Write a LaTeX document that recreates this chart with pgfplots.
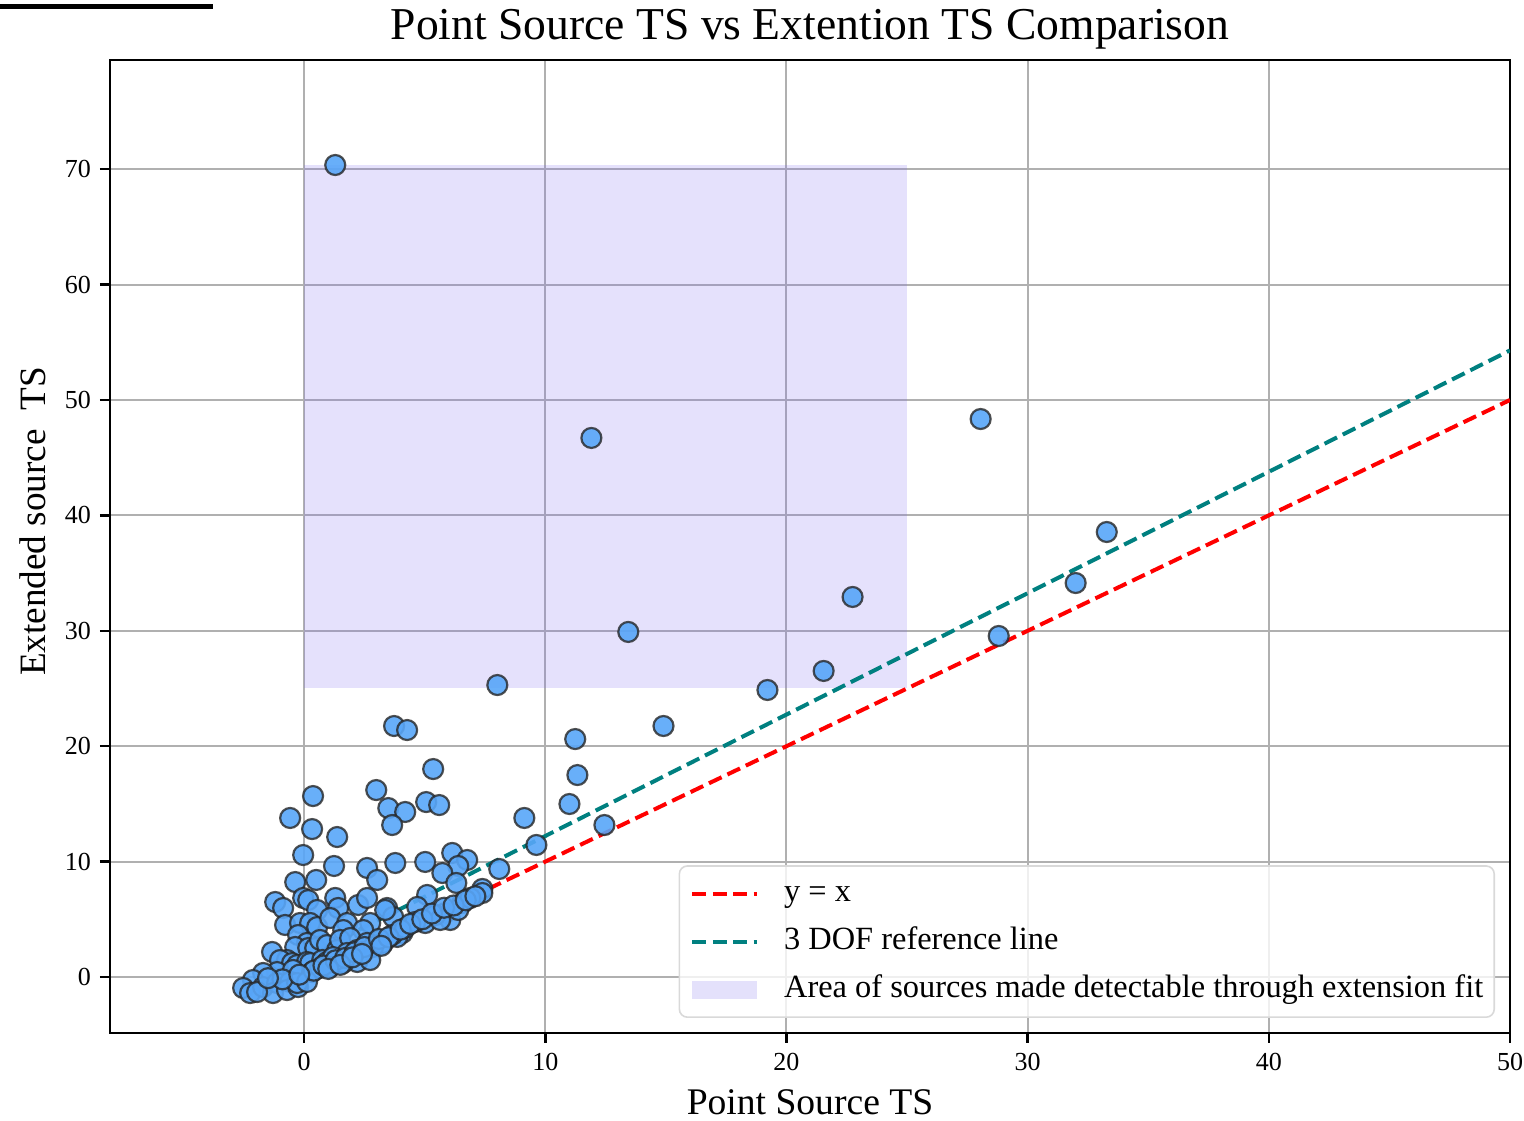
\documentclass[border=0pt]{standalone}
\usepackage{fontspec}
\setmainfont{Liberation Serif}
\usepackage{pgfplots}
\pgfplotsset{compat=1.18}
\definecolor{shadec}{RGB}{123,104,238}
\definecolor{ptfill}{RGB}{88,166,248}
\definecolor{gridc}{RGB}{176,176,176}
\definecolor{tealc}{RGB}{0,128,128}
\begin{document}
\begin{tikzpicture}
\begin{axis}[
  name=ax,
  scale only axis, width=350pt, height=243.25pt,
  xmin=-8.05, xmax=50, ymin=-4.85, ymax=79.46,
  xtick={0,10,20,30,40,50}, ytick={0,10,20,30,40,50,60,70},
  grid=major, major grid style={draw=gridc, line width=0.5pt},
  axis line style={line width=0.6pt},
  tick align=outside, major tick length=2.5pt,
  xtick pos=left, ytick pos=left,
  tick style={black, line width=0.6pt},
  /pgf/number format/assume math mode=true,
  tick label style={font=\fontsize{6.5}{7}\selectfont},
  xticklabel style={anchor=base, inner sep=0pt, yshift=-7pt},
  yticklabel style={anchor=east, inner sep=0pt, xshift=-2.1pt},
  title={Point Source TS vs Extention TS Comparison},
  title style={at={(0.5,1)}, anchor=base, yshift=-1pt, inner sep=0pt, font=\fontsize{11.4}{13}\selectfont},
  xlabel={Point Source TS},
  xlabel style={at={(0.5,0)}, anchor=base, yshift=-20.5pt, inner sep=0pt, font=\fontsize{9.4}{11}\selectfont},
  ylabel={Extended source\ \ TS},
  ylabel style={at={(-0.055,0.5257)}, anchor=center, inner sep=0pt, font=\fontsize{9.3}{11}\selectfont},
  legend style={draw=black!15, rounded corners=2pt, fill=white, fill opacity=0.8, text opacity=1,
    font=\fontsize{8.1}{9}\selectfont, at={(1,0)}, anchor=south east, xshift=-3.75pt, yshift=3.75pt,
    inner xsep=2.75pt, inner ysep=3pt, row sep=4.2pt, column sep=6.2pt,
    nodes={inner sep=0pt, text height=6pt, text depth=1.8pt},
    cells={anchor=west}},
  legend cell align=left,
  legend image code/.code={\draw[#1, sharp corners] (0pt,0pt) -- (16.25pt,0pt);},
]
% shaded region
\addplot[draw=none, fill=shadec, fill opacity=0.2, forget plot] coordinates {(0,25) (25,25) (25,70.36) (0,70.36)} --cycle;
% scatter
\addplot[only marks, mark=*, mark size=2.5pt, forget plot,
  mark options={fill=ptfill, draw=black!85, line width=0.55pt, fill opacity=0.9, draw opacity=0.8}]
coordinates {
(1.29,70.36) (11.91,46.71) (28.05,48.35) (33.28,38.56) (31.99,34.14) (22.74,32.93)
(13.44,29.90) (28.80,29.55) (21.54,26.52) (19.21,24.87) (8.01,25.30) (14.90,21.75)
(3.73,21.75) (4.27,21.40) (11.24,20.62) (5.35,18.02) (11.33,17.50) (2.99,16.20)
(0.37,15.68) (5.06,15.16) (5.60,14.90) (11.00,14.99) (3.49,14.64) (4.19,14.30)
(9.13,13.78) (-0.58,13.78) (12.45,13.17) (3.65,13.17) (0.33,12.82) (1.37,12.13)
(9.63,11.44) (-0.04,10.57) (6.14,10.75) (6.76,10.14) (5.02,9.97) (3.78,9.88)
(1.24,9.62) (2.61,9.45) (8.09,9.36) (6.39,9.62) (5.73,9.01) (3.03,8.41)
(0.50,8.41) (-0.37,8.23) (6.31,8.15) (7.39,7.63) (7.39,7.28) (5.10,7.11)
(6.56,6.41) (4.69,6.07) (3.44,5.98) (3.69,5.20) (5.02,4.68) (5.85,5.55)
(6.06,4.94) (4.07,3.81) (3.03,3.21) (2.82,2.77) (2.74,4.68) (-1.20,6.50)
(-0.87,5.98) (-0.04,6.85) (0.17,6.67) (0.54,5.81) (1.29,6.85) (1.41,5.98)
(2.24,6.24) (2.61,6.85) (3.36,5.81) (-0.79,4.51) (-0.17,4.68) (0.25,4.68)
(0.54,4.33) (1.08,5.11) (1.78,4.68) (1.62,4.07) (2.45,4.07) (-0.25,3.64)
(0.12,2.95) (-1.33,2.17) (-0.37,2.60) (0.17,2.51) (0.46,2.51) (0.66,3.21)
(0.95,2.77) (1.37,2.34) (1.49,3.21) (1.91,3.38) (1.78,2.08) (2.20,2.34)
(2.61,2.95) (3.28,2.95) (3.86,3.47) (2.41,2.17) (2.86,2.60) (-0.71,1.47)
(-1.00,1.47) (-0.50,1.21) (-0.29,1.04) (0.12,1.30) (0.25,1.21) (0.75,1.47)
(0.95,1.30) (1.20,1.73) (2.20,1.30) (2.74,1.47) (-1.12,0.43) (-1.70,0.35)
(-0.46,0.61) (0.33,0.43) (0.66,0.78) (1.08,0.87) (1.62,1.21) (-2.12,-0.26)
(-2.53,-0.95) (-2.24,-1.39) (-1.70,-0.87) (-1.12,-0.52) (-0.58,-0.43) (-1.29,-1.39)
(-0.71,-1.13) (-0.25,-0.87) (-1.95,-1.30) (-0.29,-0.52) (0.12,-0.43) (3.65,3.64)
(4.19,4.25) (4.61,4.77) (5.44,5.37) (5.64,4.94) (6.39,5.81) (6.89,6.85)
(0.40,0.55) (0.80,1.00) (1.30,1.45) (1.70,1.65) (2.10,2.15) (2.50,2.60)
(3.10,3.30) (3.50,3.45) (4.00,4.10) (4.40,4.60) (4.90,5.00) (5.30,5.50)
(5.80,6.00) (6.20,6.20) (6.70,6.65) (7.10,7.00) (1.00,0.70) (1.50,1.05)
(2.00,1.70) (2.40,2.00) (3.20,2.70) (-0.90,-0.20) (-1.50,-0.10) (-0.20,0.20)
};
% reference lines
\addplot[red, line width=1pt, dash pattern=on 3.5pt off 1.6pt]
  coordinates {(0,0) (50,50)};
\addlegendentry{y = x}
\addplot[tealc, line width=1pt, dash pattern=on 3.5pt off 1.6pt]
  coordinates {(0,1.7) (50,54.3)};
\addlegendentry{3 DOF reference line}
\addlegendimage{legend image code/.code={\path[fill=shadec, fill opacity=0.2, draw=none, sharp corners] (0pt,-2.25pt) rectangle (16.25pt,2.25pt);}}
\addlegendentry{Area of sources made detectable through extension fit}
\end{axis}
\fill[black] ([xshift=-27.5pt,yshift=12.75pt]ax.north west) rectangle ([xshift=25.75pt,yshift=14pt]ax.north west);
\path ([xshift=-27.5pt,yshift=-22pt]ax.south west) rectangle ([xshift=3.5pt,yshift=15pt]ax.north east);
\end{tikzpicture}
\end{document}
